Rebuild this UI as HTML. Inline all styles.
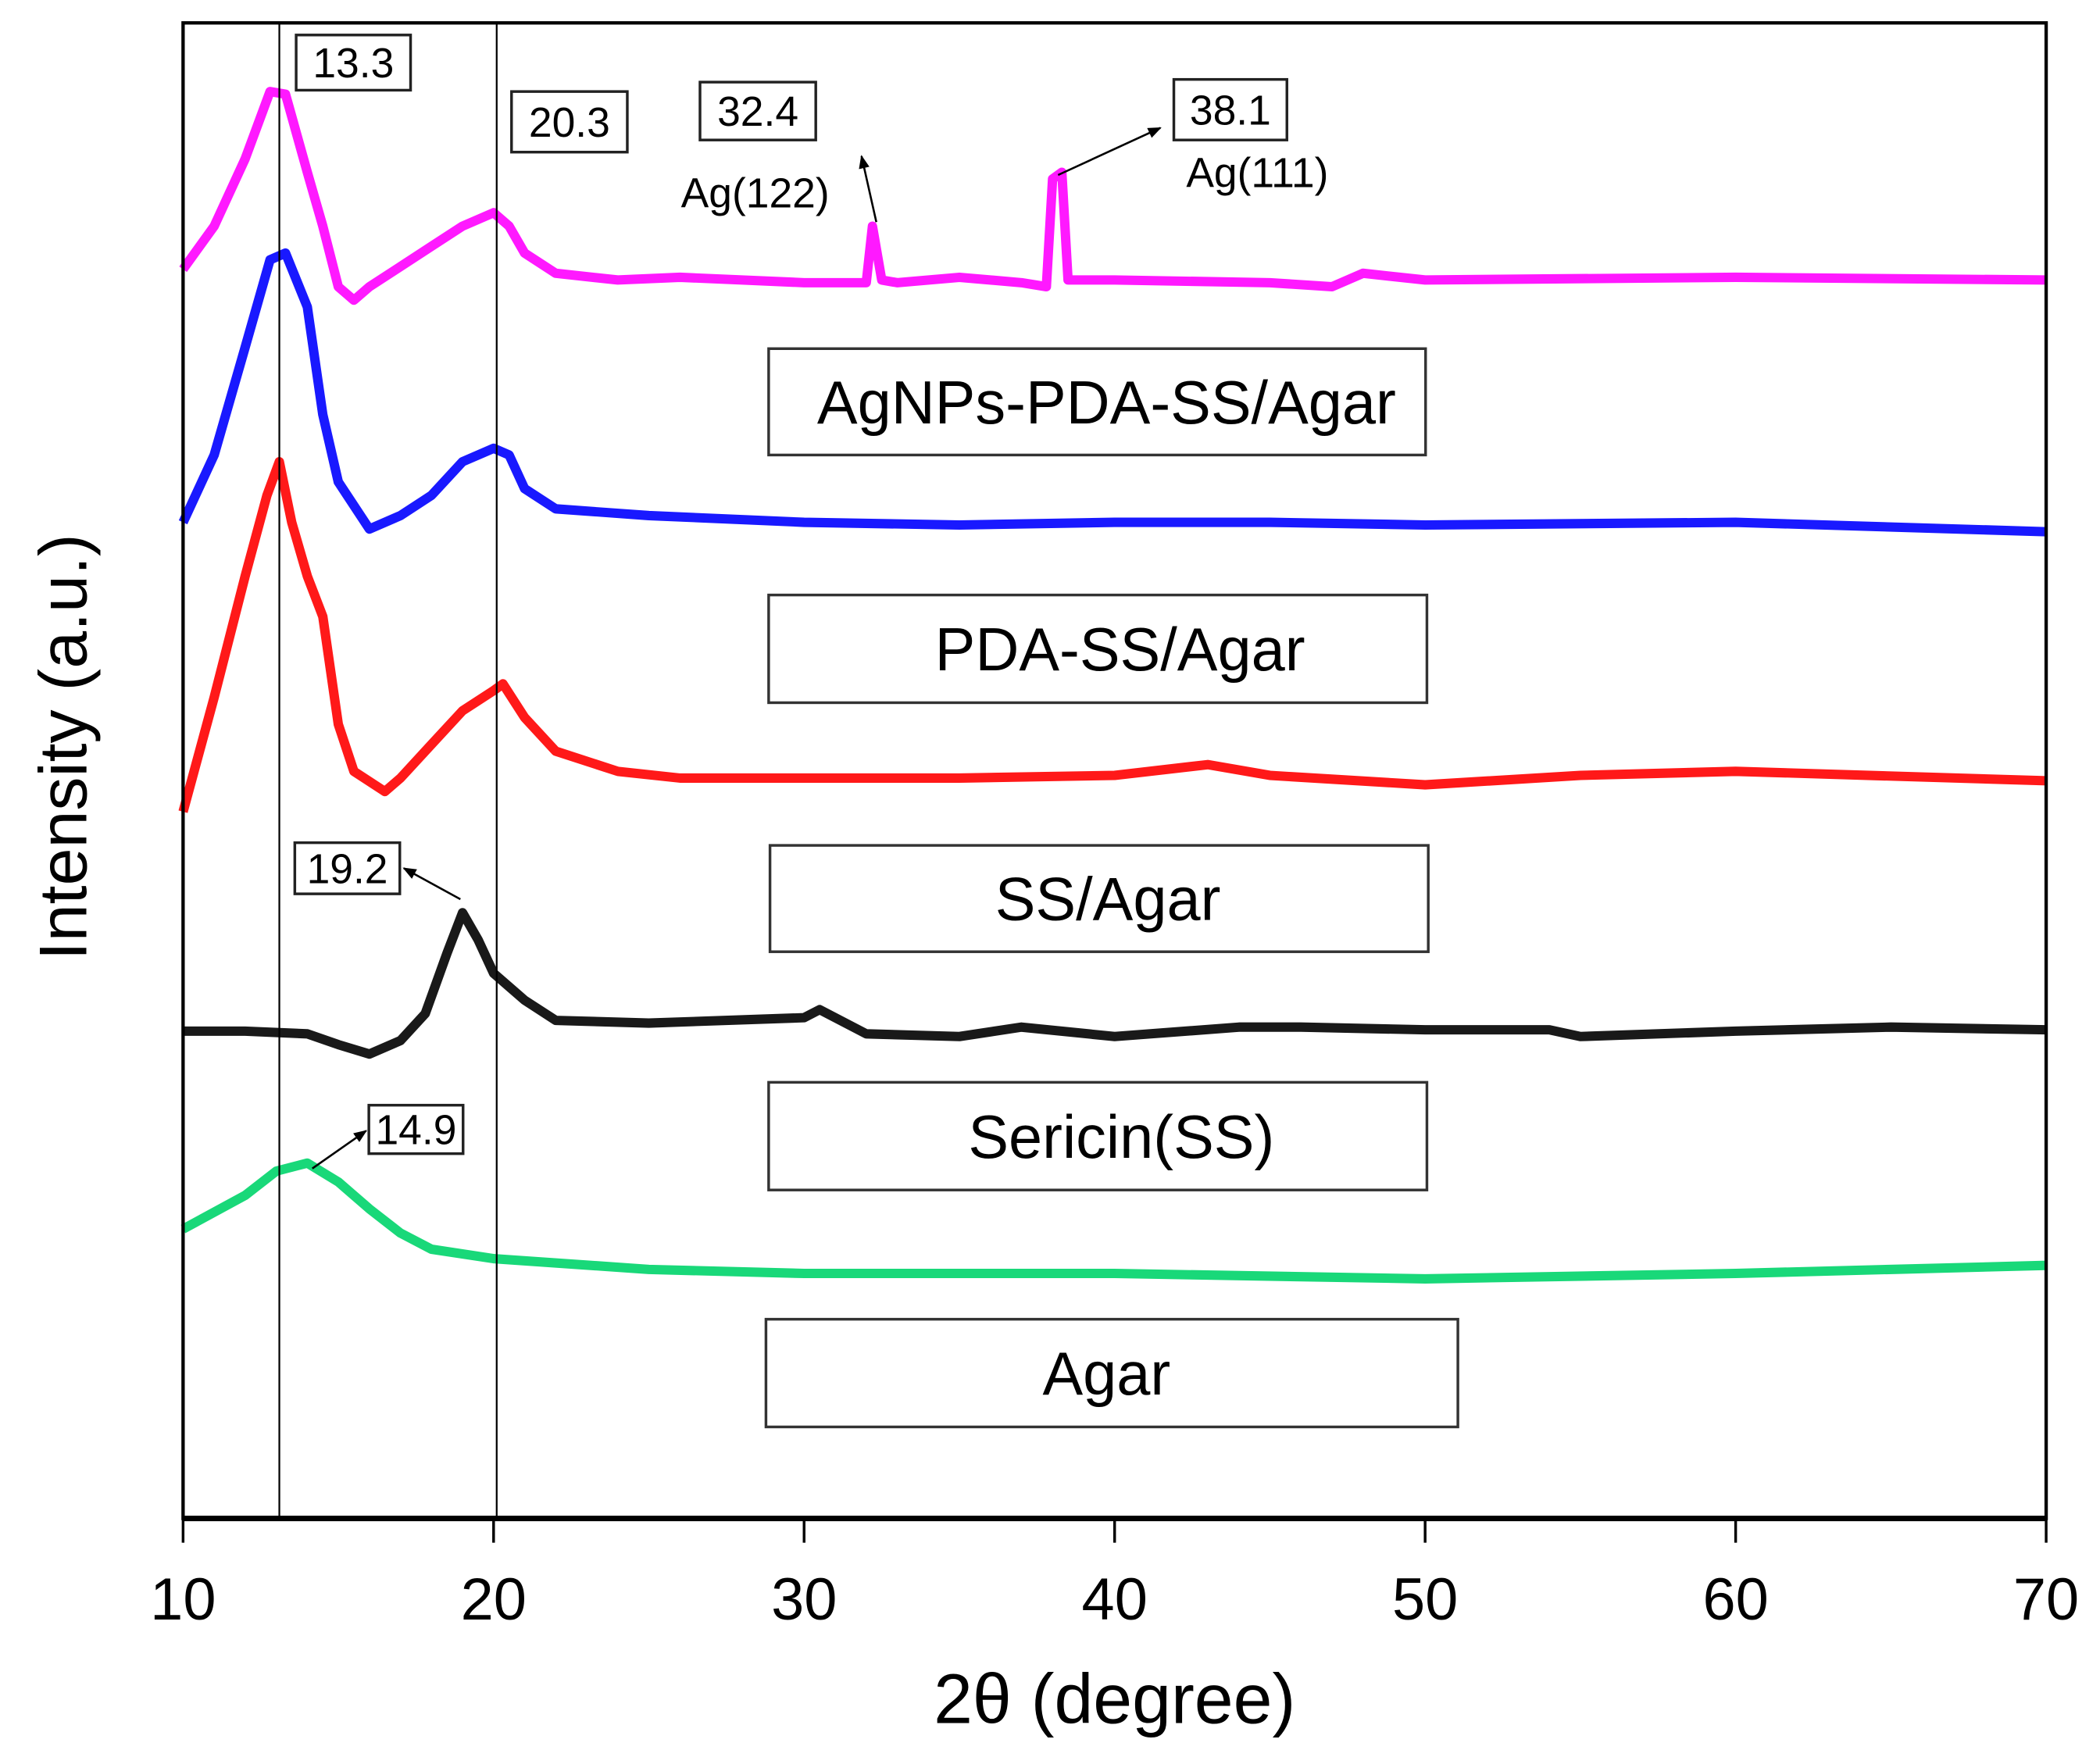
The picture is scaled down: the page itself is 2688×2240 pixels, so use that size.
<!DOCTYPE html>
<html><head><meta charset="utf-8"><style>
html,body{margin:0;padding:0;background:#fff}
svg{display:block}
text{font-family:"Liberation Sans",Arial,sans-serif}
</style></head><body>
<svg id="chart" width="2688" height="2240" viewBox="0 0 1560 1300" xmlns="http://www.w3.org/2000/svg">
<defs><marker id="ah" markerWidth="10" markerHeight="8" refX="9" refY="4" orient="auto" markerUnits="userSpaceOnUse"><path d="M0,0 L10,4 L0,8 Z" fill="#000"/></marker></defs>
<g id="series"></g>
<g id="axes"></g>
<g id="annot"></g>
</svg>
<script>
const xTicks=[10,20,30,40,50,60,70];
const xTickLabels=["10","20","30","40","50","60","70"];
const refLines=[13.1,20.1];
const magX=[10,11,12,12.8,13.3,14,14.5,15,15.5,16,17,18,19,20,20.5,21,22,24,26,28,30,32,32.2,32.5,33,35,37,37.8,38,38.3,38.5,40,45,47,48,50,60,70];
const magY=[928,960,1010,1060,1058,1000,960,915,905,915,930,945,960,970,960,940,925,920,922,920,918,918,960,920,918,922,918,915,995,1000,920,920,918,915,925,920,922,920];
const bluX=[10,11,12,12.8,13.3,14,14.5,15,16,17,18,19,20,20.5,21,22,25,30,35,40,45,50,60,70];
const bluY=[740,790,870,935,940,900,820,770,735,745,760,785,795,790,765,750,745,740,738,740,740,738,740,733];
const redX=[10,11,12,12.7,13.1,13.5,14,14.5,15,15.5,16.5,17,18,19,20,20.3,21,22,24,26,30,35,40,43,45,50,55,60,70];
const redY=[525,610,700,760,785,740,700,670,590,555,540,550,575,600,615,620,595,570,555,550,550,550,552,560,552,545,552,555,548];
const blkX=[10,12,14,15,16,17,17.8,18.5,19,19.5,20,21,22,25,30,30.5,32,35,37,40,44,46,50,54,55,60,65,70];
const blkY=[362,362,360,352,345,355,375,420,450,430,405,385,370,368,372,378,360,358,365,358,365,365,363,363,358,362,365,363];
const grnX=[10,12,13,14,15,16,17,18,20,25,30,40,50,60,70];
const grnY=[215,240,258,264,250,230,212,200,193,185,182,182,178,182,188];
const NS='http://www.w3.org/2000/svg';
const X0=136,X1=1520,YB=1128,YT=17;
const xs=v=>X0+(v-10)/60*(X1-X0);
const ys=v=>YB-v;
function mk(tag,attrs,parent){const e=document.createElementNS(NS,tag);for(const k in attrs)e.setAttribute(k,attrs[k]);parent.appendChild(e);return e;}
const sg=document.getElementById('series');
const defs=[[grnX,grnY,'#00d46a','agar'],[blkX,blkY,'#000','sericin'],[redX,redY,'#ff0000','ss-agar'],[bluX,bluY,'#0000ff','pda-ss-agar'],[magX,magY,'#ff00ff','agnps-pda-ss-agar']];
defs.forEach(([X,Y,c,n])=>{
  const d=X.map((x,i)=>(i?'L':'M')+xs(x).toFixed(1)+','+ys(Y[i]).toFixed(1)).join(' ');
  const p=mk('path',{d:d,fill:'none',stroke:c,'stroke-width':7,'stroke-linejoin':'round',opacity:0.9},sg);
  
  
});
const ax=document.getElementById('axes');
refLines.forEach(v=>{const l=mk('line',{x1:xs(v),x2:xs(v),y1:YT,y2:YB,stroke:'#000','stroke-width':1.3},ax);

});
const fr=mk('rect',{x:X0,y:YT,width:X1-X0,height:YB-YT,fill:'none',stroke:'#000','stroke-width':2.5},ax);


mk('line',{x1:X0,x2:X1,y1:YB,y2:YB,stroke:'#000','stroke-width':4},ax);
xTicks.forEach((v,i)=>{
  mk('line',{x1:xs(v),x2:xs(v),y1:YB,y2:YB+18,stroke:'#000','stroke-width':2},ax);
  const t=mk('text',{x:xs(v),y:1203,'font-size':44,'text-anchor':'middle'},ax);
  t.textContent=xTickLabels[i];
  
  
});
</script>
<script>
(function(){
const an=document.getElementById('annot');
const NS='http://www.w3.org/2000/svg';
function mk(tag,attrs,parent){const e=document.createElementNS(NS,tag);for(const k in attrs)e.setAttribute(k,attrs[k]);parent.appendChild(e);return e;}
let t=mk('text',{x:828,y:1280,'font-size':52,'text-anchor':'middle'},an);t.textContent='2θ (degree)';


t=mk('text',{x:0,y:0,'font-size':50,'text-anchor':'middle',transform:'translate(64,555) rotate(-90)'},an);t.textContent='Intensity (a.u.)';


const boxes=[[571,259,488,79,822,'AgNPs-PDA-SS/Agar','label-agnps'],[571,442,489,80,832,'PDA-SS/Agar','label-pda'],[572,628,489,79,823,'SS/Agar','label-ss-agar'],[571,804,489,80,833,'Sericin(SS)','label-sericin'],[569,980,514,80,822,'Agar','label-agar']];
boxes.forEach(b=>{
  const r=mk('rect',{x:b[0],y:b[1],width:b[2],height:b[3],fill:'#fff',stroke:'#333','stroke-width':2},an);
  
  
  const tx=mk('text',{x:b[4],y:b[1]+b[3]/2+16,'font-size':45,'text-anchor':'middle'},an);tx.textContent=b[5];
  
  
});
const small=[[220,26,85,41,'13.3'],[380,68,86,45,'20.3'],[520,61,86,43,'32.4'],[872,59,84,45,'38.1'],[219,626,78,38,'19.2'],[274,821,70,36,'14.9']];
small.forEach(b=>{
  const r=mk('rect',{x:b[0],y:b[1],width:b[2],height:b[3],fill:'#fff',stroke:'#222','stroke-width':2},an);
  
  
  const tx=mk('text',{x:b[0]+b[2]/2,y:b[1]+b[3]/2+11,'font-size':31,'text-anchor':'middle'},an);tx.textContent=b[4];
  
  
});
[[561,154,'Ag(122)'],[934,139,'Ag(111)']].forEach(a=>{
  const tx=mk('text',{x:a[0],y:a[1],'font-size':31,'text-anchor':'middle'},an);tx.textContent=a[2];
  
  
});
[[651,165,640,116],[786,130,862,95],[342,668,300,645],[232,868,272,840]].forEach(a=>{
  const l=mk('line',{x1:a[0],y1:a[1],x2:a[2],y2:a[3],stroke:'#000','stroke-width':1.5,'marker-end':'url(#ah)'},an);
  
  
});
})();
</script>
</body></html>
